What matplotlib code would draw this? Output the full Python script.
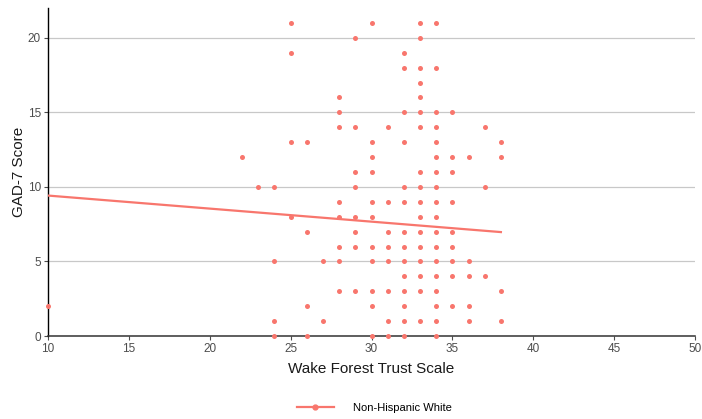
import numpy as np
import matplotlib
matplotlib.use("Agg")
import matplotlib.pyplot as plt
from matplotlib.lines import Line2D

plt.rcParams['font.family'] = ['Liberation Sans', 'DejaVu Sans']

# Data (Wake Forest Trust Scale vs GAD-7 score)
wake_forest = [10,
               22, 23,
               24, 24, 24, 24,
               25, 25, 25, 25,
               26, 26, 26, 26,
               27, 27,
               28, 28, 28, 28, 28, 28, 28, 28,
               29, 29, 29, 29, 29, 29, 29, 29,
               30, 30, 30, 30, 30, 30, 30, 30, 30, 30, 30,
               31, 31, 31, 31, 31, 31, 31, 31,
               32, 32, 32, 32, 32, 32, 32, 32, 32, 32, 32, 32, 32, 32,
               33, 33, 33, 33, 33, 33, 33, 33, 33, 33, 33, 33, 33, 33, 33, 33, 33,
               34, 34, 34, 34, 34, 34, 34, 34, 34, 34, 34, 34, 34, 34, 34, 34, 34, 34,
               35, 35, 35, 35, 35, 35, 35, 35, 35,
               36, 36, 36, 36, 36,
               37, 37, 37,
               38, 38, 38, 38]
gad7 = [2,
        12, 10,
        10, 5, 1, 0,
        21, 19, 13, 8,
        13, 7, 2, 0,
        5, 1,
        16, 15, 14, 9, 8, 6, 5, 3,
        20, 14, 11, 10, 8, 7, 6, 3,
        21, 13, 12, 11, 9, 8, 6, 5, 3, 2, 0,
        14, 9, 7, 6, 5, 3, 1, 0,
        19, 18, 15, 13, 10, 9, 7, 6, 5, 4, 3, 2, 1, 0,
        21, 20, 18, 17, 16, 15, 14, 11, 10, 9, 8, 7, 6, 5, 4, 3, 1,
        21, 18, 15, 14, 13, 12, 11, 10, 9, 8, 7, 6, 5, 4, 3, 2, 1, 0,
        15, 12, 11, 9, 7, 6, 5, 4, 2,
        12, 5, 4, 2, 1,
        14, 10, 4,
        13, 12, 3, 1]
# Linear trend line (overlapping points hide the weights)
trend_x = [10, 38]
trend_y = [9.42, 6.97]
group_label = "Non-Hispanic White"
x_ticks = [10, 15, 20, 25, 30, 35, 40, 45, 50]
y_ticks = [0, 5, 10, 15, 20]

color = "#F8766D"
tick_color = "#4D4D4D"

fig = plt.figure(figsize=(7.02, 4.19), dpi=100)
ax = fig.add_axes([48/702, 1-336/419, (695-48)/702, (336-8)/419])

ax.set_xlim(10, 50)
ax.set_ylim(0, 22)
ax.set_xticks(x_ticks)
ax.set_yticks(y_ticks)
ax.grid(axis='y', color='#C8C8C8', linewidth=0.9)
ax.set_axisbelow(True)

ax.scatter(wake_forest, gad7, s=13, color=color, linewidths=0, zorder=3, clip_on=False)
ax.plot(trend_x, trend_y, color=color, linewidth=1.6, zorder=4)

for s in ['top', 'right']:
    ax.spines[s].set_visible(False)
ax.spines['left'].set_color('black')
ax.spines['left'].set_linewidth(1.0)
ax.spines['bottom'].set_color('#333333')
ax.spines['bottom'].set_linewidth(1.1)

ax.tick_params(axis='both', colors='#4D4D4D', labelcolor=tick_color,
               labelsize=8.5, length=3, width=0.8, pad=2)

ax.set_xlabel("Wake Forest Trust Scale", fontsize=11, color='#1a1a1a', labelpad=5)
ax.set_ylabel("GAD-7 Score", fontsize=11, color='#1a1a1a', labelpad=1)

handle = Line2D([0], [0], color=color, linewidth=1.6, marker='o', markersize=3.5)
fig.legend([handle], [group_label], loc='center', bbox_to_anchor=(0.533, 0.026),
           frameon=False, fontsize=8, handlelength=3.3, handletextpad=1.7)

fig.savefig("out.png", dpi=100)
